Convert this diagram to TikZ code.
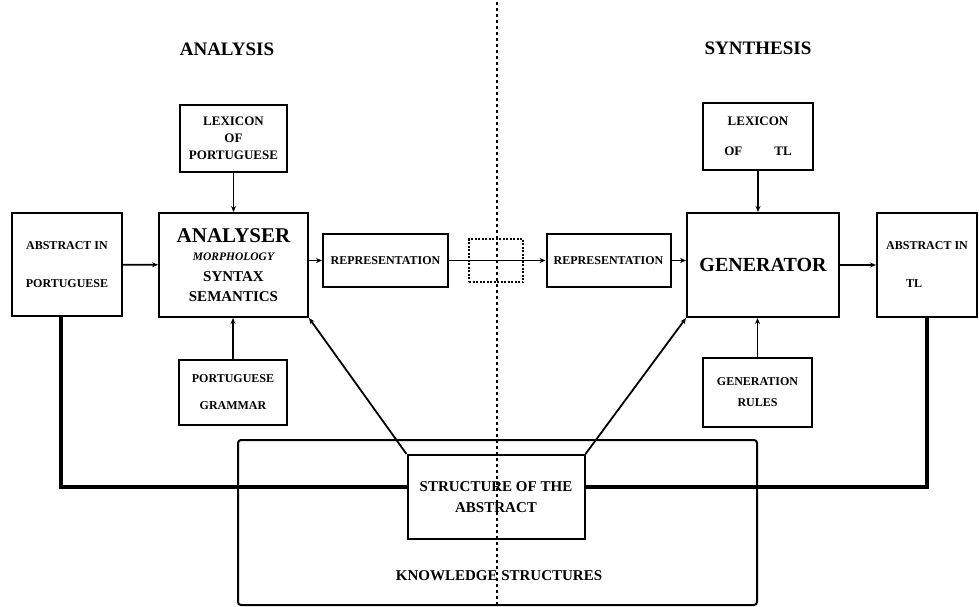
\documentclass[tikz,border=0pt]{standalone}
\usepackage{fontspec}
\setmainfont{Liberation Serif}
\usepackage{tikz}
\usetikzlibrary{positioning, arrows.meta, calc}
\tikzset{
	blockbox/.style={rectangle, draw=black, line width=2pt, fill=white,
		align=center, inner sep=2pt, font=\bfseries\fontsize{12}{14}\selectfont},
	lexbox/.style={blockbox, font=\bfseries\fontsize{13}{17}\selectfont},
	bigbox/.style={blockbox, font=\bfseries\fontsize{20}{22}\selectfont},
	knowbox/.style={rectangle, draw=black, line width=2pt, rounded corners=3pt},
	dotbox/.style={rectangle, draw=black, line width=1.4pt, dash pattern=on 2pt off 1.5pt},
	flowarr/.style={-{Stealth[length=6pt, width=5pt]}, line width=1.8pt},
	heavyline/.style={line width=4.5pt},
	splitline/.style={line width=1.6pt, dash pattern=on 3pt off 3pt},
	sidetitle/.style={font=\bfseries\fontsize{19}{21}\selectfont},
	midlabel/.style={font=\bfseries\fontsize{15}{17}\selectfont}
}

\begin{document}
\begin{tikzpicture}[x=1pt, y=-1pt]
	\useasboundingbox (0,0) rectangle (979,607);
	% the two halves
	\node[sidetitle] (anatitle) at (227,49) {ANALYSIS};
	\node[sidetitle] (syntitle) at (758,48) {SYNTHESIS};
	% knowledge structures at the bottom
	\node[knowbox, minimum width=519pt, minimum height=165pt] (knowledge) at (497.5,522.5) {};
	\node[midlabel] (knowtext) at (499,576) {KNOWLEDGE STRUCTURES};
	% analysis side
	\node[blockbox, minimum width=110pt, minimum height=103pt] (absport) at (67,264.5) {ABSTRACT IN\\[24pt]PORTUGUESE};
	\node[blockbox, minimum width=149pt, minimum height=104pt, font=\bfseries\fontsize{15}{20}\selectfont] (analyser) at (233.5,265)
		{{\fontsize{21}{21}\selectfont ANALYSER}\\[-1.5pt]{\itshape\fontsize{11.5}{12}\selectfont MORPHOLOGY}\\[1pt]SYNTAX\\SEMANTICS};
	\node[lexbox, minimum width=107pt, minimum height=67pt] (lexport) at (233.5,138.5) {LEXICON\\OF\\PORTUGUESE};
	\node[blockbox, minimum width=108pt, minimum height=65pt] (gramport) at (233,392.5) {PORTUGUESE\\[13pt]GRAMMAR};
	\node[blockbox, minimum width=125pt, minimum height=53pt] (repleft) at (385.5,260.5) {REPRESENTATION};
	% transfer
	\node[dotbox, minimum width=54pt, minimum height=43pt] (midbox) at (496,260.5) {};
	% synthesis side
	\node[blockbox, minimum width=124pt, minimum height=53pt] (repright) at (608.5,260.5) {REPRESENTATION};
	\node[bigbox, minimum width=152pt, minimum height=104pt] (generator) at (763,265) {GENERATOR};
	\node[lexbox, minimum width=110pt, minimum height=67pt, font=\bfseries\fontsize{13}{14}\selectfont] (lextl) at (758,136.5) {LEXICON\\[16pt]OF\hspace{32pt}TL};
	\node[blockbox, minimum width=109pt, minimum height=69pt] (genrules) at (757.5,392.5) {GENERATION\\[7pt]RULES};
	\node[blockbox, minimum width=100pt, minimum height=104pt] (abstl) at (927,265) {ABSTRACT IN\\[24pt]TL\hspace{26pt}\mbox{}};
	\node[blockbox, minimum width=177pt, minimum height=84pt, font=\bfseries\fontsize{15}{21}\selectfont] (structure) at (496,497) {STRUCTURE OF THE\\ABSTRACT};
	% connections
	\draw[flowarr] (absport) -- (analyser);
	\draw[flowarr] (analyser.east |- repleft) -- (repleft);
	\draw[flowarr] (repleft) -- (repright);
	\draw[flowarr] (repright) -- (repright -| generator.west);
	\draw[flowarr] (generator) -- (abstl);
	\draw[flowarr] (lexport) -- (analyser);
	\draw[flowarr] (gramport) -- (gramport |- analyser.south);
	\draw[flowarr] (lextl) -- (lextl |- generator.north);
	\draw[flowarr] (genrules) -- (genrules |- generator.south);
	\draw[flowarr] (structure.north west) -- (analyser.south east);
	\draw[flowarr] (structure.north east) -- (generator.south west);
	\draw[heavyline] ([xshift=-6pt]absport.south) |- ([yshift=10pt]structure.west);
	\draw[heavyline] ([yshift=10pt]structure.east) -| (abstl.south);
	% dividing line
	\coordinate (splittop) at (497,2);
	\coordinate (splitbot) at (497,607);
	\draw[splitline] (splittop) -- (splitbot);
\end{tikzpicture}
\end{document}
